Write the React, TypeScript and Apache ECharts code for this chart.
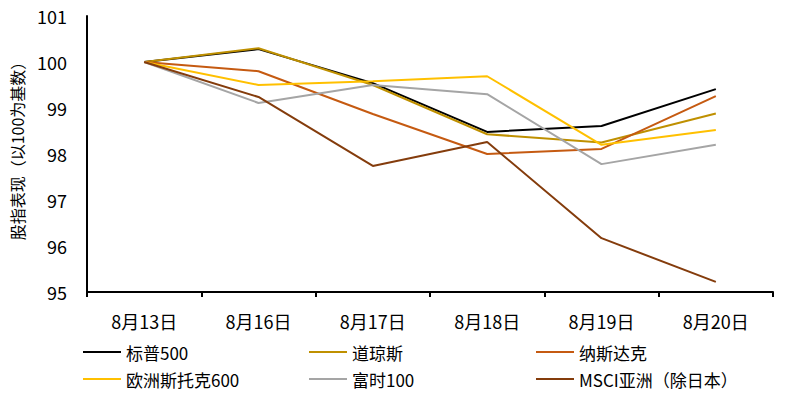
import React, { useEffect, useRef } from "react";
import * as echarts from "echarts";

const categories = ["8月13日", "8月16日", "8月17日", "8月18日", "8月19日", "8月20日"];
const sp500 = [100, 100.28, 99.54, 98.48, 98.61, 99.41];
const dowJones = [100, 100.3, 99.5, 98.43, 98.25, 98.88];
const nasdaq = [100, 99.8, 98.87, 98.0, 98.11, 99.26];
const stoxx600 = [100, 99.5, 99.58, 99.69, 98.2, 98.52];
const ftse100 = [100, 99.11, 99.5, 99.3, 97.78, 98.2];
const msciAsia = [100, 99.24, 97.74, 98.26, 96.17, 95.22];

const seriesNames = ["标普500", "道琼斯", "纳斯达克", "欧洲斯托克600", "富时100", "MSCI亚洲（除日本）"];
const seriesData = [sp500, dowJones, nasdaq, stoxx600, ftse100, msciAsia];
const colors = ["#000000", "#BF9000", "#C55A11", "#FFC000", "#A5A5A5", "#843C0C"];
const yAxisName = "股指表现（以100为基数）";

const FONT = "'Noto Sans CJK SC', 'Noto Sans', sans-serif";

export default function App() {
  const ref = useRef<HTMLDivElement>(null);
  useEffect(() => {
    if (!ref.current) return;
    const chart = echarts.init(ref.current, null, { renderer: "svg" });
    const legendBase = {
      orient: "vertical" as const,
      icon: "rect",
      itemWidth: 38,
      itemHeight: 2,
      itemGap: 7,
      padding: 0,
      textStyle: { color: "#000", fontSize: 17, lineHeight: 20, fontFamily: FONT },
      top: 342,
    };
    chart.setOption({
      animation: false,
      color: colors,
      textStyle: { fontFamily: FONT },
      grid: { left: 87, top: 16, right: 14, bottom: 107, containLabel: false },
      legend: [
        { ...legendBase, left: 83, data: [seriesNames[0], seriesNames[3]] },
        { ...legendBase, left: 309, data: [seriesNames[1], seriesNames[4]] },
        { ...legendBase, left: 536, data: [seriesNames[2], seriesNames[5]] },
      ],
      graphic: [
        {
          type: "text",
          x: 17,
          y: 147,
          rotation: Math.PI / 2,
          style: {
            text: yAxisName,
            fill: "#000",
            font: `16px ${FONT}`,
            textAlign: "center",
            textVerticalAlign: "middle",
          },
        },
      ],
      xAxis: {
        type: "category",
        data: categories,
        boundaryGap: true,
        axisLine: { lineStyle: { color: "#000", width: 2 } },
        axisTick: { show: true, length: 5, lineStyle: { color: "#000", width: 2 } },
        axisLabel: { color: "#000", fontSize: 18, margin: 20, fontFamily: FONT },
      },
      yAxis: {
        type: "value",
        min: 95,
        max: 101,
        interval: 1,
        axisLine: { show: true, lineStyle: { color: "#000", width: 2 } },
        axisTick: { show: false },
        splitLine: { show: false },
        axisLabel: { color: "#000", fontSize: 18, margin: 20, fontFamily: FONT },
      },
      series: seriesNames.map((name, i) => ({
        name,
        type: "line",
        data: seriesData[i],
        symbol: "none",
        lineStyle: { width: 2, color: colors[i] },
        itemStyle: { color: colors[i] },
      })),
    });
    return () => chart.dispose();
  }, []);
  return <div ref={ref} style={{ width: 787, height: 399, margin: -8 }} />;
}
